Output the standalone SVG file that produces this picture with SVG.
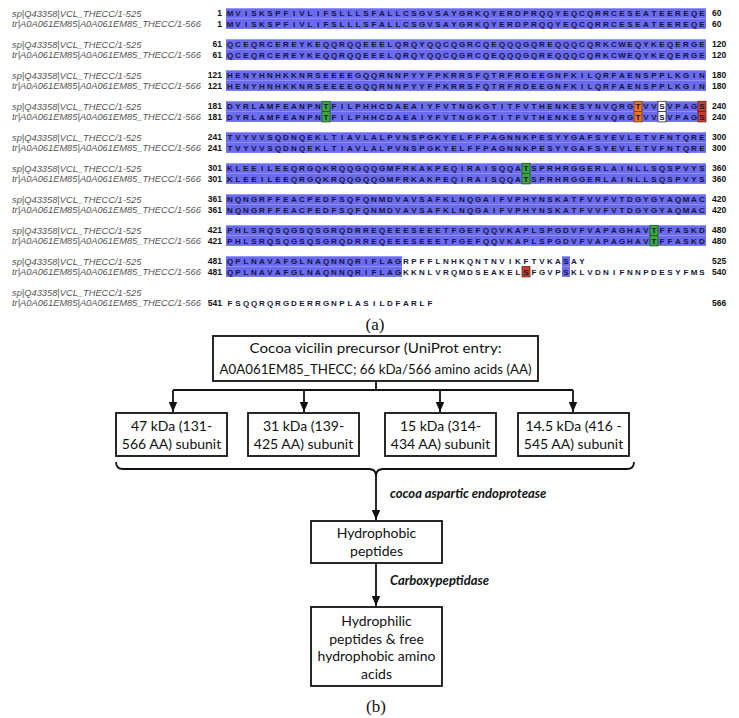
<svg xmlns="http://www.w3.org/2000/svg" width="739" height="718" viewBox="0 0 739 718">
<style>
.lab{font-family:"Liberation Sans",Arial,sans-serif;font-style:italic;font-size:9.3px;fill:#555}
.num{font-family:"Liberation Sans",Arial,sans-serif;font-weight:bold;font-size:8.5px;fill:#111}
.ne{text-anchor:end}
.seq{font-family:"Liberation Sans",Arial,sans-serif;font-weight:bold;font-size:8px;fill:#15153c;text-anchor:middle}
.bar{fill:#6b6bef}
.hg{fill:#3aa83a;stroke:#1d5a1d;stroke-width:0.8}
.ho{fill:#e8731f;stroke:#7a3a10;stroke-width:0.8}
.hr{fill:#c8402a;stroke:#6a2010;stroke-width:0.8}
.hw{fill:#fff;stroke:#333;stroke-width:0.8}
.box{fill:#fff;stroke:#111;stroke-width:1.8}
.t{font-family:Lato,"Open Sans",sans-serif;font-size:14px;fill:#111;text-anchor:middle}
.el{font-family:Lato,"Open Sans",sans-serif;font-weight:bold;font-style:italic;font-size:13px;fill:#111}
.cap{font-family:"Liberation Serif","Times New Roman",serif;font-size:17px;fill:#111;text-anchor:middle}
.ln{fill:none;stroke:#111;stroke-width:1.8}
</style>
<defs>
<marker id="ah" markerUnits="userSpaceOnUse" markerWidth="10" markerHeight="10" viewBox="0 0 10 10" refX="10" refY="5" orient="auto">
<path d="M0,0.8 L10,5 L0,9.2 Z" fill="#111"/>
</marker>
</defs>
<rect width="739" height="718" fill="#fff"/>
<g id="alignment">
<g id="blk1">
<rect class="bar" x="226" y="8.3" width="480" height="10.3"/><rect class="bar" x="226" y="18.6" width="480" height="10.3"/>
<text class="lab" x="12" y="16.5">sp|Q43358|VCL_THECC/1-525</text><text class="lab" x="12" y="26.8">tr|A0A061EM85|A0A061EM85_THECC/1-566</text>
<text class="num ne" x="222" y="16.4">1</text><text class="num ne" x="222" y="26.7">1</text>
<text class="num" x="712" y="16.4">60</text><text class="num" x="712" y="26.7">60</text>
<text class="seq" y="16.4" x="230 238 246 254 262 270 278 286 294 302 310 318 326 334 342 350 358 366 374 382 390 398 406 414 422 430 438 446 454 462 470 478 486 494 502 510 518 526 534 542 550 558 566 574 582 590 598 606 614 622 630 638 646 654 662 670 678 686 694 702">MVISKSPFIVLIFSLLLSFALLCSGVSAYGRKQYERDPRQQYEQCQRRCESEATEEREQE</text>
<text class="seq" y="26.7" x="230 238 246 254 262 270 278 286 294 302 310 318 326 334 342 350 358 366 374 382 390 398 406 414 422 430 438 446 454 462 470 478 486 494 502 510 518 526 534 542 550 558 566 574 582 590 598 606 614 622 630 638 646 654 662 670 678 686 694 702">MVISKSPFIVLIFSLLLSFALLCSGVSAYGRKQYERDPRQQYEQCQRRCESEATEEREQE</text>
</g>
<g id="blk61" transform="translate(0,31)">
<rect class="bar" x="226" y="8.3" width="480" height="10.3"/><rect class="bar" x="226" y="18.6" width="480" height="10.3"/>
<text class="lab" x="12" y="16.5">sp|Q43358|VCL_THECC/1-525</text><text class="lab" x="12" y="26.8">tr|A0A061EM85|A0A061EM85_THECC/1-566</text>
<text class="num ne" x="222" y="16.4">61</text><text class="num ne" x="222" y="26.7">61</text>
<text class="num" x="712" y="16.4">120</text><text class="num" x="712" y="26.7">120</text>
<text class="seq" y="16.4" x="230 238 246 254 262 270 278 286 294 302 310 318 326 334 342 350 358 366 374 382 390 398 406 414 422 430 438 446 454 462 470 478 486 494 502 510 518 526 534 542 550 558 566 574 582 590 598 606 614 622 630 638 646 654 662 670 678 686 694 702">QCEQRCEREYKEQQRQQEEELQRQYQQCQGRCQEQQQGQREQQQCQRKCWEQYKEQERGE</text>
<text class="seq" y="26.7" x="230 238 246 254 262 270 278 286 294 302 310 318 326 334 342 350 358 366 374 382 390 398 406 414 422 430 438 446 454 462 470 478 486 494 502 510 518 526 534 542 550 558 566 574 582 590 598 606 614 622 630 638 646 654 662 670 678 686 694 702">QCEQRCEREYKEQQRQQEEELQRQYQQCQGRCQEQQQGQREQQQCQRKCWEQYKEQERGE</text>
</g>
<g id="blk121" transform="translate(0,62)">
<rect class="bar" x="226" y="8.3" width="480" height="10.3"/><rect class="bar" x="226" y="18.6" width="480" height="10.3"/>
<text class="lab" x="12" y="16.5">sp|Q43358|VCL_THECC/1-525</text><text class="lab" x="12" y="26.8">tr|A0A061EM85|A0A061EM85_THECC/1-566</text>
<text class="num ne" x="222" y="16.4">121</text><text class="num ne" x="222" y="26.7">121</text>
<text class="num" x="712" y="16.4">180</text><text class="num" x="712" y="26.7">180</text>
<text class="seq" y="16.4" x="230 238 246 254 262 270 278 286 294 302 310 318 326 334 342 350 358 366 374 382 390 398 406 414 422 430 438 446 454 462 470 478 486 494 502 510 518 526 534 542 550 558 566 574 582 590 598 606 614 622 630 638 646 654 662 670 678 686 694 702">HENYHNHKKNRSEEEEGQQRNNPYYFPKRRSFQTRFRDEEGNFKILQRFAENSPPLKGIN</text>
<text class="seq" y="26.7" x="230 238 246 254 262 270 278 286 294 302 310 318 326 334 342 350 358 366 374 382 390 398 406 414 422 430 438 446 454 462 470 478 486 494 502 510 518 526 534 542 550 558 566 574 582 590 598 606 614 622 630 638 646 654 662 670 678 686 694 702">HENYHNHKKNRSEEEEGQQRNNPYYFPKRRSFQTRFRDEEGNFKILQRFAENSPPLKGIN</text>
</g>
<g id="blk181" transform="translate(0,93)">
<rect class="bar" x="226" y="8.3" width="480" height="10.3"/><rect class="bar" x="226" y="18.6" width="480" height="10.3"/>
<rect class="hg" x="322" y="8.3" width="8" height="10.3"/><rect class="hg" x="322" y="18.6" width="8" height="10.3"/>
<rect class="ho" x="634" y="8.3" width="8" height="10.3"/><rect class="ho" x="634" y="18.6" width="8" height="10.3"/>
<rect class="hw" x="658" y="8.3" width="8" height="10.3"/><rect class="hw" x="658" y="18.6" width="8" height="10.3"/>
<rect class="hr" x="698" y="8.3" width="8" height="10.3"/><rect class="hr" x="698" y="18.6" width="8" height="10.3"/>
<text class="lab" x="12" y="16.5">sp|Q43358|VCL_THECC/1-525</text><text class="lab" x="12" y="26.8">tr|A0A061EM85|A0A061EM85_THECC/1-566</text>
<text class="num ne" x="222" y="16.4">181</text><text class="num ne" x="222" y="26.7">181</text>
<text class="num" x="712" y="16.4">240</text><text class="num" x="712" y="26.7">240</text>
<text class="seq" y="16.4" x="230 238 246 254 262 270 278 286 294 302 310 318 326 334 342 350 358 366 374 382 390 398 406 414 422 430 438 446 454 462 470 478 486 494 502 510 518 526 534 542 550 558 566 574 582 590 598 606 614 622 630 638 646 654 662 670 678 686 694 702">DYRLAMFEANPNTFILPHHCDAEAIYFVTNGKGTITFVTHENKESYNVQRGTVVSVPAGS</text>
<text class="seq" y="26.7" x="230 238 246 254 262 270 278 286 294 302 310 318 326 334 342 350 358 366 374 382 390 398 406 414 422 430 438 446 454 462 470 478 486 494 502 510 518 526 534 542 550 558 566 574 582 590 598 606 614 622 630 638 646 654 662 670 678 686 694 702">DYRLAMFEANPNTFILPHHCDAEAIYFVTNGKGTITFVTHENKESYNVQRGTVVSVPAGS</text>
</g>
<g id="blk241" transform="translate(0,124)">
<rect class="bar" x="226" y="8.3" width="480" height="10.3"/><rect class="bar" x="226" y="18.6" width="480" height="10.3"/>
<text class="lab" x="12" y="16.5">sp|Q43358|VCL_THECC/1-525</text><text class="lab" x="12" y="26.8">tr|A0A061EM85|A0A061EM85_THECC/1-566</text>
<text class="num ne" x="222" y="16.4">241</text><text class="num ne" x="222" y="26.7">241</text>
<text class="num" x="712" y="16.4">300</text><text class="num" x="712" y="26.7">300</text>
<text class="seq" y="16.4" x="230 238 246 254 262 270 278 286 294 302 310 318 326 334 342 350 358 366 374 382 390 398 406 414 422 430 438 446 454 462 470 478 486 494 502 510 518 526 534 542 550 558 566 574 582 590 598 606 614 622 630 638 646 654 662 670 678 686 694 702">TVYVVSQDNQEKLTIAVLALPVNSPGKYELFFPAGNNKPESYYGAFSYEVLETVFNTQRE</text>
<text class="seq" y="26.7" x="230 238 246 254 262 270 278 286 294 302 310 318 326 334 342 350 358 366 374 382 390 398 406 414 422 430 438 446 454 462 470 478 486 494 502 510 518 526 534 542 550 558 566 574 582 590 598 606 614 622 630 638 646 654 662 670 678 686 694 702">TVYVVSQDNQEKLTIAVLALPVNSPGKYELFFPAGNNKPESYYGAFSYEVLETVFNTQRE</text>
</g>
<g id="blk301" transform="translate(0,155)">
<rect class="bar" x="226" y="8.3" width="480" height="10.3"/><rect class="bar" x="226" y="18.6" width="480" height="10.3"/>
<rect class="hg" x="522" y="8.3" width="8" height="10.3"/><rect class="hg" x="522" y="18.6" width="8" height="10.3"/>
<text class="lab" x="12" y="16.5">sp|Q43358|VCL_THECC/1-525</text><text class="lab" x="12" y="26.8">tr|A0A061EM85|A0A061EM85_THECC/1-566</text>
<text class="num ne" x="222" y="16.4">301</text><text class="num ne" x="222" y="26.7">301</text>
<text class="num" x="712" y="16.4">360</text><text class="num" x="712" y="26.7">360</text>
<text class="seq" y="16.4" x="230 238 246 254 262 270 278 286 294 302 310 318 326 334 342 350 358 366 374 382 390 398 406 414 422 430 438 446 454 462 470 478 486 494 502 510 518 526 534 542 550 558 566 574 582 590 598 606 614 622 630 638 646 654 662 670 678 686 694 702">KLEEILEEQRGQKRQQGQQGMFRKAKPEQIRAISQQATSPRHRGGERLAINLLSQSPVYS</text>
<text class="seq" y="26.7" x="230 238 246 254 262 270 278 286 294 302 310 318 326 334 342 350 358 366 374 382 390 398 406 414 422 430 438 446 454 462 470 478 486 494 502 510 518 526 534 542 550 558 566 574 582 590 598 606 614 622 630 638 646 654 662 670 678 686 694 702">KLEEILEEQRGQKRQQGQQGMFRKAKPEQIRAISQQATSPRHRGGERLAINLLSQSPVYS</text>
</g>
<g id="blk361" transform="translate(0,186)">
<rect class="bar" x="226" y="8.3" width="480" height="10.3"/><rect class="bar" x="226" y="18.6" width="480" height="10.3"/>
<text class="lab" x="12" y="16.5">sp|Q43358|VCL_THECC/1-525</text><text class="lab" x="12" y="26.8">tr|A0A061EM85|A0A061EM85_THECC/1-566</text>
<text class="num ne" x="222" y="16.4">361</text><text class="num ne" x="222" y="26.7">361</text>
<text class="num" x="712" y="16.4">420</text><text class="num" x="712" y="26.7">420</text>
<text class="seq" y="16.4" x="230 238 246 254 262 270 278 286 294 302 310 318 326 334 342 350 358 366 374 382 390 398 406 414 422 430 438 446 454 462 470 478 486 494 502 510 518 526 534 542 550 558 566 574 582 590 598 606 614 622 630 638 646 654 662 670 678 686 694 702">NQNGRFFEACPEDFSQFQNMDVAVSAFKLNQGAIFVPHYNSKATFVVFVTDGYGYAQMAC</text>
<text class="seq" y="26.7" x="230 238 246 254 262 270 278 286 294 302 310 318 326 334 342 350 358 366 374 382 390 398 406 414 422 430 438 446 454 462 470 478 486 494 502 510 518 526 534 542 550 558 566 574 582 590 598 606 614 622 630 638 646 654 662 670 678 686 694 702">NQNGRFFEACPEDFSQFQNMDVAVSAFKLNQGAIFVPHYNSKATFVVFVTDGYGYAQMAC</text>
</g>
<g id="blk421" transform="translate(0,217)">
<rect class="bar" x="226" y="8.3" width="480" height="10.3"/><rect class="bar" x="226" y="18.6" width="480" height="10.3"/>
<rect class="hg" x="650" y="8.3" width="8" height="10.3"/><rect class="hg" x="650" y="18.6" width="8" height="10.3"/>
<text class="lab" x="12" y="16.5">sp|Q43358|VCL_THECC/1-525</text><text class="lab" x="12" y="26.8">tr|A0A061EM85|A0A061EM85_THECC/1-566</text>
<text class="num ne" x="222" y="16.4">421</text><text class="num ne" x="222" y="26.7">421</text>
<text class="num" x="712" y="16.4">480</text><text class="num" x="712" y="26.7">480</text>
<text class="seq" y="16.4" x="230 238 246 254 262 270 278 286 294 302 310 318 326 334 342 350 358 366 374 382 390 398 406 414 422 430 438 446 454 462 470 478 486 494 502 510 518 526 534 542 550 558 566 574 582 590 598 606 614 622 630 638 646 654 662 670 678 686 694 702">PHLSRQSQGSQSGRQDRREQEEESEEETFGEFQQVKAPLSPGDVFVAPAGHAVTFFASKD</text>
<text class="seq" y="26.7" x="230 238 246 254 262 270 278 286 294 302 310 318 326 334 342 350 358 366 374 382 390 398 406 414 422 430 438 446 454 462 470 478 486 494 502 510 518 526 534 542 550 558 566 574 582 590 598 606 614 622 630 638 646 654 662 670 678 686 694 702">PHLSRQSQGSQSGRQDRREQEEESEEETFGEFQQVKAPLSPGDVFVAPAGHAVTFFASKD</text>
</g>
<g id="blk481" transform="translate(0,248)">
<rect class="bar" x="226" y="8.3" width="176" height="10.3"/><rect class="bar" x="226" y="18.6" width="176" height="10.3"/>
<rect class="bar" x="562" y="8.3" width="8" height="10.3"/><rect class="bar" x="562" y="18.6" width="8" height="10.3"/>
<rect class="hr" x="522" y="18.6" width="8" height="10.3"/>
<text class="lab" x="12" y="16.5">sp|Q43358|VCL_THECC/1-525</text><text class="lab" x="12" y="26.8">tr|A0A061EM85|A0A061EM85_THECC/1-566</text>
<text class="num ne" x="222" y="16.4">481</text><text class="num ne" x="222" y="26.7">481</text>
<text class="num" x="712" y="16.4">525</text><text class="num" x="712" y="26.7">540</text>
<text class="seq" y="16.4" x="230 238 246 254 262 270 278 286 294 302 310 318 326 334 342 350 358 366 374 382 390 398 406 414 422 430 438 446 454 462 470 478 486 494 502 510 518 526 534 542 550 558 566 574 582">QPLNAVAFGLNAQNNQRIFLAGRPFFLNHKQNTNVIKFTVKASAY</text>
<text class="seq" y="26.7" x="230 238 246 254 262 270 278 286 294 302 310 318 326 334 342 350 358 366 374 382 390 398 406 414 422 430 438 446 454 462 470 478 486 494 502 510 518 526 534 542 550 558 566 574 582 590 598 606 614 622 630 638 646 654 662 670 678 686 694 702">QPLNAVAFGLNAQNNQRIFLAGKKNLVRQMDSEAKELSFGVPSKLVDNIFNNPDESYFMS</text>
</g>
<g id="blk541" transform="translate(0,279)">
<text class="lab" x="12" y="16.5">sp|Q43358|VCL_THECC/1-525</text><text class="lab" x="12" y="26.8">tr|A0A061EM85|A0A061EM85_THECC/1-566</text>
<text class="num ne" x="222" y="26.7">541</text>
<text class="num" x="712" y="26.7">566</text>
<text class="seq" y="26.7" x="230 238 246 254 262 270 278 286 294 302 310 318 326 334 342 350 358 366 374 382 390 398 406 414 422 430">FSQQRQRGDERRGNPLASILDFARLF</text>
</g>
</g>
<text class="cap" x="375" y="330">(a)</text>
<g id="connectors">
<path class="ln" d="M376,381 V390 M173,390 H573"/>
<path class="ln" d="M173,390 V412" marker-end="url(#ah)"/>
<path class="ln" d="M304,390 V412" marker-end="url(#ah)"/>
<path class="ln" d="M440,390 V412" marker-end="url(#ah)"/>
<path class="ln" d="M573,390 V412" marker-end="url(#ah)"/>
<path class="ln" d="M116,462 Q116,469 123,469 H369 Q376,469 376,476 Q376,469 383,469 H627 Q634,469 634,462"/>
<path class="ln" d="M376,475 V520" marker-end="url(#ah)"/>
<path class="ln" d="M376,563 V606" marker-end="url(#ah)"/>
<text class="el" x="390" y="498">cocoa aspartic endoprotease</text>
<text class="el" x="390" y="585">Carboxypeptidase</text>
</g>
<g id="n-precursor">
<rect class="box" x="213" y="336" width="325" height="45"/>
<text class="t" x="375.5" y="353" textLength="252" lengthAdjust="spacingAndGlyphs">Cocoa vicilin precursor (UniProt entry:</text>
<text class="t" x="375.5" y="374" textLength="312" lengthAdjust="spacingAndGlyphs">A0A061EM85_THECC; 66 kDa/566 amino acids (AA)</text>
</g>
<g id="n-47">
<rect class="box" x="116" y="413" width="111" height="43"/>
<text class="t" x="171.5" y="431">47 kDa (131-</text>
<text class="t" x="171.5" y="449">566 AA) subunit</text>
</g>
<g id="n-31">
<rect class="box" x="248" y="413" width="111" height="43"/>
<text class="t" x="303.5" y="431">31 kDa (139-</text>
<text class="t" x="303.5" y="449">425 AA) subunit</text>
</g>
<g id="n-15">
<rect class="box" x="385" y="413" width="111" height="43"/>
<text class="t" x="440.5" y="431">15 kDa (314-</text>
<text class="t" x="440.5" y="449">434 AA) subunit</text>
</g>
<g id="n-14">
<rect class="box" x="518" y="413" width="111" height="43"/>
<text class="t" x="573.5" y="431">14.5 kDa (416 -</text>
<text class="t" x="573.5" y="449">545 AA) subunit</text>
</g>
<g id="n-hydrophobic">
<rect class="box" x="311" y="521" width="131" height="42"/>
<text class="t" x="376.5" y="538">Hydrophobic</text>
<text class="t" x="376.5" y="556">peptides</text>
</g>
<g id="n-hydrophilic">
<rect class="box" x="311" y="607" width="131" height="79"/>
<text class="t" x="376.5" y="626">Hydrophilic</text>
<text class="t" x="376.5" y="643.5">peptides &amp; free</text>
<text class="t" x="376.5" y="661">hydrophobic amino</text>
<text class="t" x="376.5" y="678.5">acids</text>
</g>
<text class="cap" x="376" y="712">(b)</text>
</svg>
